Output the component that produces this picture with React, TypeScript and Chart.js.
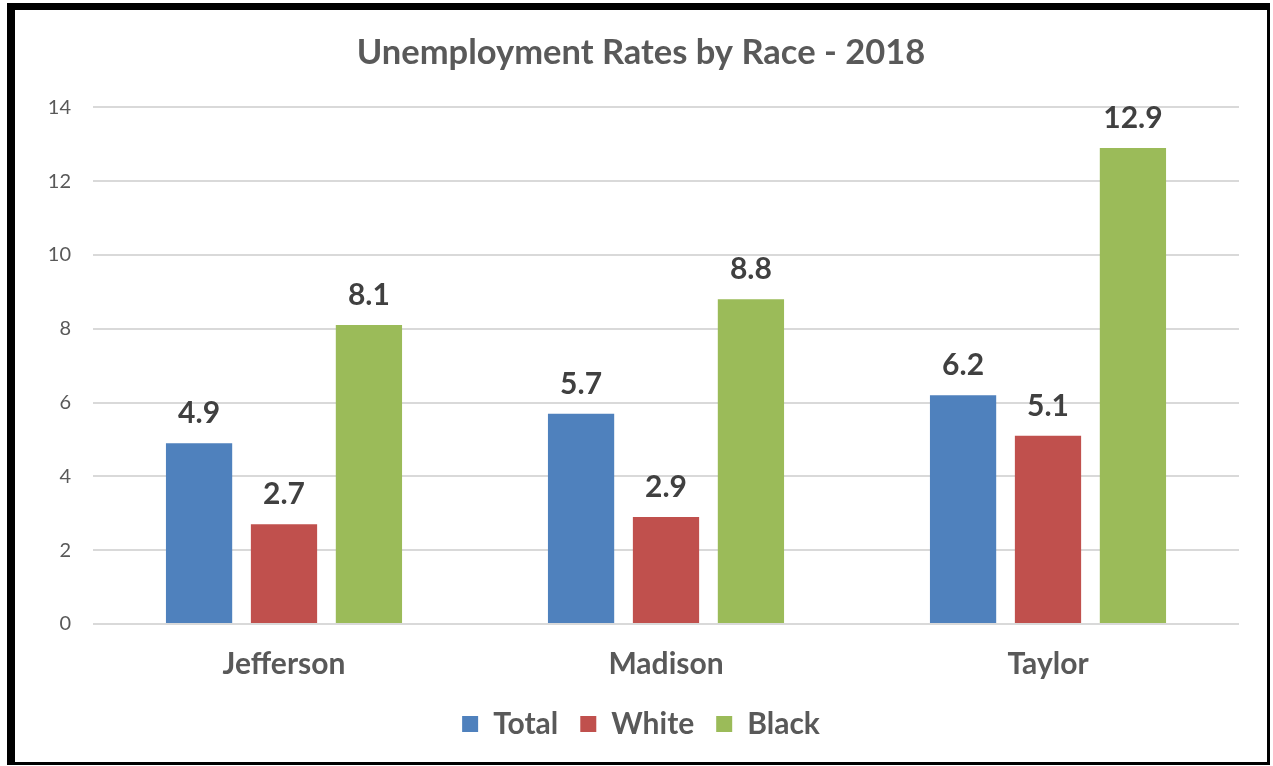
import React, { useEffect, useRef } from "react";
import { Chart, registerables } from "chart.js";

Chart.register(...registerables);

const categories = ["Jefferson", "Madison", "Taylor"];
const seriesNames = ["Total", "White", "Black"];
const totalValues = [4.9, 5.7, 6.2];
const whiteValues = [2.7, 2.9, 5.1];
const blackValues = [8.1, 8.8, 12.9];
const seriesColors = ["#4F81BD", "#C0504D", "#9BBB59"];
const yTicks = [0, 2, 4, 6, 8, 10, 12, 14];
const titleText = "Unemployment Rates by Race - 2018";

const FONT = "Lato, Carlito, Calibri, 'Open Sans', sans-serif";

const dataLabelPlugin = {
  id: "dataLabels",
  afterDatasetsDraw(chart: any) {
    const ctx = chart.ctx;
    ctx.save();
    ctx.font = `bold 30px ${FONT}`;
    ctx.fillStyle = "#404040";
    ctx.textAlign = "center";
    ctx.textBaseline = "alphabetic";
    chart.data.datasets.forEach((ds: any, i: number) => {
      const meta = chart.getDatasetMeta(i);
      meta.data.forEach((el: any, j: number) => {
        ctx.fillText(ds.data[j].toFixed(1), el.x, el.y - 20);
      });
    });
    ctx.restore();
  },
};

export default function App() {
  const ref = useRef<HTMLCanvasElement>(null);
  useEffect(() => {
    if (!ref.current) return;
    const values = [totalValues, whiteValues, blackValues];
    const chart = new Chart(ref.current, {
      type: "bar",
      data: {
        labels: categories,
        datasets: seriesNames.map((name, i) => ({
          label: name,
          data: values[i],
          backgroundColor: seriesColors[i],
          borderWidth: 0,
          categoryPercentage: 0.667,
          barPercentage: 0.78,
          yAxisID: "y",
        })),
      },
      options: {
        responsive: false,
        animation: false,
        devicePixelRatio: 1,
        layout: { padding: { left: 0, right: 0, top: 0, bottom: 13 } },
        plugins: {
          tooltip: { enabled: false },
          title: {
            display: true,
            text: titleText,
            color: "#595959",
            font: { family: FONT, size: 34.5, weight: "bold" },
            padding: { top: 22, bottom: 34 },
          },
          legend: {
            position: "bottom",
            labels: {
              color: "#595959",
              font: { family: FONT, size: 30, weight: "bold" },
              boxWidth: 16,
              boxHeight: 16,
              padding: 22,
            },
          },
        },
        scales: {
          x: {
            grid: { display: false },
            border: { display: false },
            ticks: {
              color: "#595959",
              font: { family: FONT, size: 30, weight: "bold" },
              padding: 14,
            },
            afterFit: (s: any) => {
              s.height = 63;
            },
          },
          y: {
            min: 0,
            max: 14,
            afterBuildTicks: (s: any) => {
              s.ticks = yTicks.map((v) => ({ value: v }));
            },
            grid: { color: "#D9D9D9", lineWidth: 2, drawTicks: false },
            border: { display: false },
            ticks: {
              color: "#595959",
              font: { family: FONT, size: 20 },
              padding: 22,
            },
            afterFit: (s: any) => {
              s.width = 78;
            },
          },
          spacer: {
            type: "linear",
            position: "right",
            min: 0,
            max: 14,
            grid: { display: false, drawTicks: false },
            border: { display: false },
            ticks: { display: false },
            afterFit: (s: any) => {
              s.width = 28;
            },
          },
        },
      },
      plugins: [dataLabelPlugin],
    });
    return () => chart.destroy();
  }, []);

  return (
    <div
      style={{
        position: "fixed",
        left: 7,
        top: 3,
        width: 1263,
        height: 762,
        boxSizing: "border-box",
        borderStyle: "solid",
        borderColor: "#000",
        borderWidth: "7px 3px 3px 8px",
        background: "#fff",
      }}
    >
      <canvas ref={ref} width={1252} height={752} style={{ display: "block" }} />
    </div>
  );
}
